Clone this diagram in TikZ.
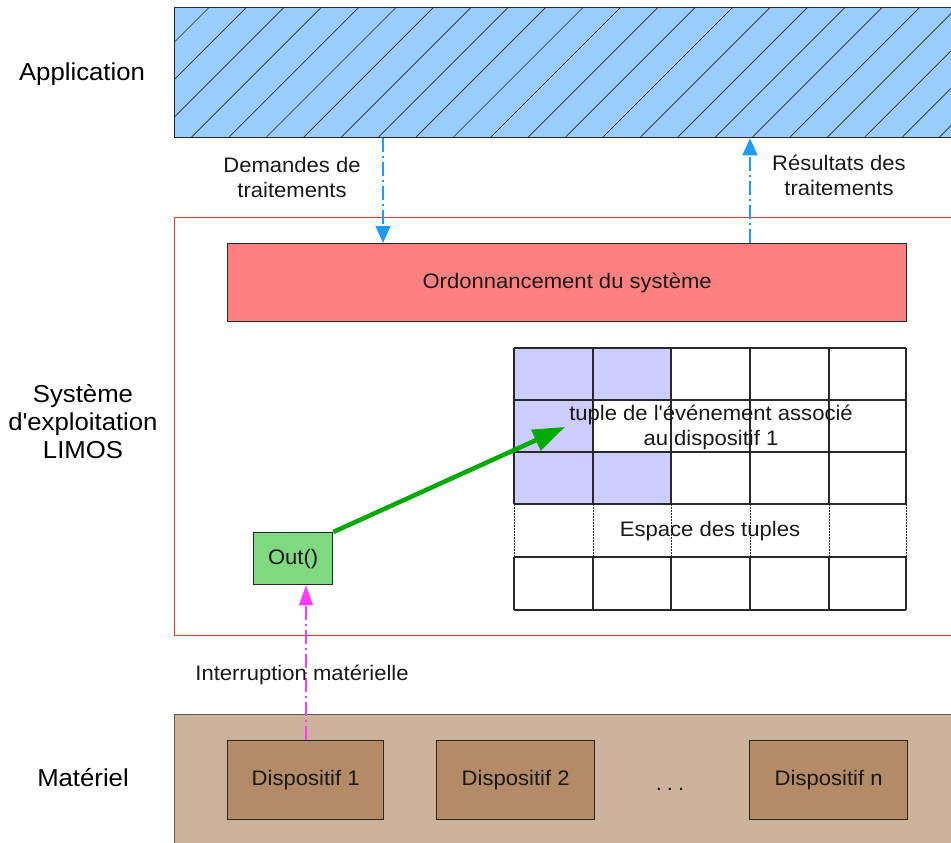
\documentclass[tikz,border=0pt]{standalone}
\usepackage{fontspec}
\setmainfont[FakeStretch=1.05]{Liberation Sans}
\usetikzlibrary{arrows.meta,calc}
\definecolor{appfill}{RGB}{153,204,255}
\definecolor{ordfill}{RGB}{255,128,128}
\definecolor{cellfill}{RGB}{204,204,255}
\definecolor{outfill}{RGB}{128,216,128}
\definecolor{hwfill}{RGB}{203,178,153}
\definecolor{devfill}{RGB}{179,139,102}
\definecolor{bluearr}{RGB}{30,155,255}
\definecolor{magarr}{RGB}{255,60,255}
\definecolor{greenarr}{RGB}{0,170,0}
\definecolor{osred}{RGB}{255,50,50}
\definecolor{edge}{RGB}{40,40,40}
\definecolor{hwedge}{RGB}{90,90,90}
\definecolor{txt}{RGB}{25,25,25}
\begin{document}
\begin{tikzpicture}[x=1pt,y=-1pt,
  box/.style={draw=edge,line width=1.3pt,rectangle,inner sep=0pt,anchor=north west,
    font=\fontsize{21}{24}\selectfont,text=txt},
  lbl/.style={font=\fontsize{21}{25}\selectfont,text=txt,align=center,inner sep=0pt},
  side/.style={font=\fontsize{24.5}{28}\selectfont,align=center,inner sep=0pt},
  flow/.style={line width=1.5pt,dash pattern=on 14pt off 4pt on 2pt off 4pt,
    -{Triangle[width=15pt,length=17pt]}},
  irq/.style={line width=1.5pt,dash pattern=on 14pt off 4pt on 2pt off 4pt,
    -{Triangle[width=14pt,length=20pt]}},
  gridline/.style={draw=edge,line width=1.3pt},
  dotline/.style={draw=edge,line width=1pt,dash pattern=on 1.5pt off 1.5pt},
  hatch/.style={draw=edge,line width=0.7pt}
]
\useasboundingbox (0,0) rectangle (951,843);

% left labels
\node[side] (lapp) at (82,74) {Application};
\node[side] (los) at (83,422) {Système\\d\textquotesingle exploitation\\LIMOS};
\node[side] (lhw) at (83,778) {Matériel};

% application layer
\node[box,fill=appfill,minimum width=800pt,minimum height=130pt] (app) at (174,7) {};
\begin{scope}
  \clip (app.north west) rectangle (app.south east);
  \foreach \k in {-5,...,22}
    \draw[hatch] ({191.7+37.4*\k},137) -- ({321.7+37.4*\k},7);
\end{scope}

% operating system layer
\node[draw=osred,line width=1.1pt,rectangle,inner sep=0pt,anchor=north west,
      minimum width=800pt,minimum height=418pt] (os) at (174,217) {};
\node[box,fill=ordfill,minimum width=679pt,minimum height=78pt] (ord) at (227,243)
  {Ordonnancement du système};

% tuple space grid
\fill[cellfill] (514,348) rectangle (671,400);
\fill[cellfill] (514,400) rectangle (593,452);
\fill[cellfill] (514,452) rectangle (671,504);
\foreach \y in {348,400,452,504,557,610}
  \draw[gridline] (514,\y) -- (906,\y);
\foreach \x in {514,593,671,750,829,906} {
  \draw[gridline] (\x,348) -- (\x,504);
  \draw[gridline] (\x,557) -- (\x,610);
  \draw[dotline] (\x,504) -- (\x,557);
}
\node[lbl] (tuple) at (711,427) {tuple de l\textquotesingle événement associé\\au dispositif 1};
\node[lbl] (espace) at (710,531) {Espace des tuples};

\node[box,fill=outfill,minimum width=79pt,minimum height=52pt] (out) at (253,532) {Out()};
\coordinate (tip) at (565,427);
\draw[greenarr,line width=4.5pt,-{Triangle[width=22pt,length=32pt]}] (out.north east) -- (tip);

% hardware layer
\node[draw=hwedge,line width=1.3pt,rectangle,inner sep=0pt,anchor=north west,fill=hwfill,
      minimum width=800pt,minimum height=140pt] (hw) at (174,714) {};
\node[box,fill=devfill,minimum width=156pt,minimum height=79pt] (d1) at (227,740) {Dispositif 1};
\node[box,fill=devfill,minimum width=158pt,minimum height=79pt] (d2) at (436,740) {Dispositif 2};
\node[box,fill=devfill,minimum width=158pt,minimum height=79pt] (dn) at (749,740) {Dispositif n};
\node[font=\fontsize{21}{24}\selectfont,text=txt,anchor=base,inner sep=0pt] (dots) at (670,790) {.\hspace{5pt}.\hspace{5pt}.};

% flows
\coordinate (xa) at (383,0);
\coordinate (xb) at (750,0);
\coordinate (xc) at (306,0);
\draw[flow,bluearr] (app.south -| xa) -- (ord.north -| xa);
\draw[flow,bluearr] (ord.north -| xb) -- (app.south -| xb);
\draw[irq,magarr] (d1.north -| xc) -- (out.south -| xc);

\node[lbl] (ldem) at (292,177) {Demandes de\\traitements};
\node[lbl] (lres) at (839,175) {Résultats des\\traitements};
\node[lbl] (lirq) at (302,675) {Interruption matérielle};
\end{tikzpicture}
\end{document}
